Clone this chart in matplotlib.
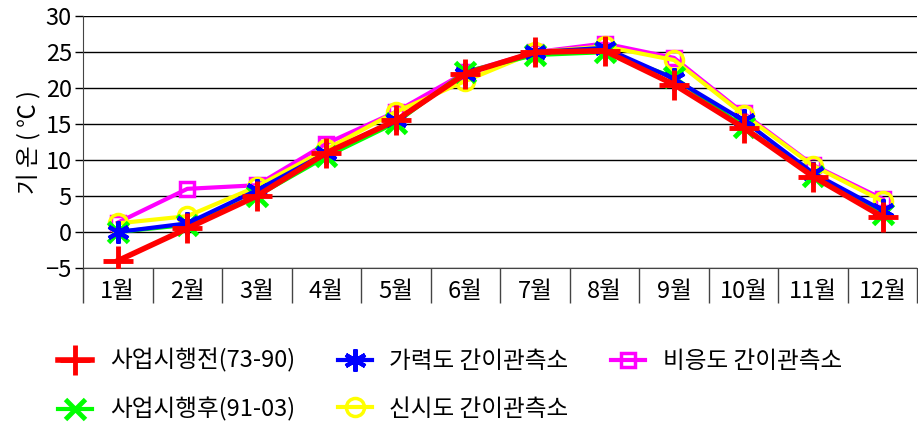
import numpy as np
import matplotlib
matplotlib.use("Agg")
import matplotlib.pyplot as plt

plt.rcParams['font.family'] = ['Noto Sans CJK KR', 'DejaVu Sans']

months = ["1월", "2월", "3월", "4월", "5월", "6월", "7월", "8월", "9월", "10월", "11월", "12월"]

before = [-4.0, 0.5, 5.0, 11.0, 15.5, 22.0, 25.0, 25.2, 20.5, 14.5, 7.7, 2.1]
after = [0.0, 1.0, 5.0, 10.5, 15.2, 22.3, 24.6, 25.0, 21.5, 14.6, 7.8, 2.5]
garyeok = [0.0, 1.2, 5.8, 11.0, 15.5, 22.0, 25.0, 25.6, 21.3, 15.5, 8.2, 3.0]
bieung = [1.3, 6.0, 6.5, 12.3, 16.7, 22.2, 25.0, 26.2, 24.2, 16.5, 9.3, 4.6]
sinsi = [1.2, 2.2, 6.3, 11.5, 16.7, 21.0, 25.0, 25.8, 23.9, 16.3, 9.2, 4.3]

fig = plt.figure(figsize=(9.18, 4.26), dpi=100)
ax = fig.add_axes([0.0904, 0.371, 0.909, 0.591])

x = np.arange(len(months))

l_bieung, = ax.plot(x, bieung, color="#ff00ff", lw=3, marker="s", ms=10,
                    mfc="none", mec="#ff00ff", mew=2.5, label="비응도 간이관측소", zorder=3)
l_sinsi, = ax.plot(x, sinsi, color="#ffff00", lw=3, marker="o", ms=13,
                   mfc="none", mec="#ffff00", mew=2.5, label="신시도 간이관측소", zorder=4)
l_after, = ax.plot(x, after, color="#00ff00", lw=3, marker="x", ms=14,
                   mec="#00ff00", mew=3.5, label="사업시행후(91-03)", zorder=5)
l_garyeok, = ax.plot(x, garyeok, color="#0000ff", lw=3, marker=(6, 2, 0), ms=16,
                     mec="#0000ff", mew=3, label="가력도 간이관측소", zorder=6)
l_before, = ax.plot(x, before, color="#ff0000", lw=4, marker="+", ms=22,
                    mec="#ff0000", mew=3.5, label="사업시행전(73-90)", zorder=7)

ax.set_xlim(-0.5, len(months) - 0.5)
ax.set_ylim(-5, 30)
ax.set_yticks(range(-5, 31, 5))
ax.yaxis.grid(True, color="black", lw=1)
ax.set_axisbelow(True)

ax.set_xticks(x)
ax.set_xticklabels(months, fontsize=17)
ax.tick_params(axis="x", length=0, pad=9)
ax.set_xticks(np.arange(-0.5, len(months), 1), minor=True)
ax.tick_params(axis="x", which="minor", length=25, width=1, color="#444444")
ax.tick_params(axis="y", labelsize=17, length=6, width=1, pad=2)

for s in ["top", "right"]:
    ax.spines[s].set_visible(False)
ax.spines["left"].set_color("#444444")
ax.spines["bottom"].set_color("#444444")

ax.set_ylabel("기 온 ( ℃ )", fontsize=17, labelpad=4)

handles = [l_before, l_after, l_garyeok, l_sinsi, l_bieung]
fig.legend(handles=handles, labels=[h.get_label() for h in handles],
           ncol=3, loc="lower left", bbox_to_anchor=(0.04, -0.04),
           frameon=False, fontsize=17, handlelength=1.45, columnspacing=1.8,
           labelspacing=1.05, handletextpad=0.75)

fig.savefig("out.png", dpi=100)
